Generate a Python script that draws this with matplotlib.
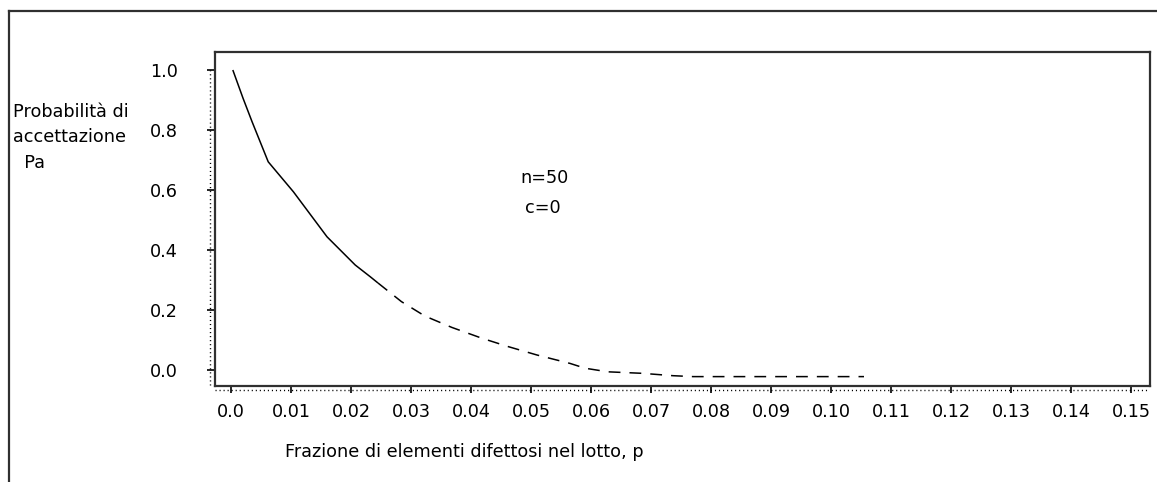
import matplotlib
matplotlib.use("Agg")
import matplotlib.pyplot as plt
from matplotlib.lines import Line2D

plt.rcParams['font.family'] = ['DejaVu Sans']
plt.rcParams['lines.scale_dashes'] = False

# --- data ---
p_solid = [0.0003, 0.002, 0.0035, 0.0062, 0.0104, 0.0160, 0.0207, 0.0232, 0.0245]
pa_solid = [1.000, 0.906, 0.828, 0.694, 0.594, 0.444, 0.350, 0.311, 0.290]
p_dash = [0.0245, 0.0284, 0.0323, 0.0368, 0.0418, 0.0462, 0.0510, 0.0565, 0.0590,
          0.0628, 0.0685, 0.0737, 0.0770, 0.0900, 0.1055]
pa_dash = [0.290, 0.228, 0.180, 0.142, 0.106, 0.078, 0.050, 0.022, 0.006,
           -0.006, -0.011, -0.019, -0.022, -0.022, -0.022]

x_ticks = [0.0, 0.01, 0.02, 0.03, 0.04, 0.05, 0.06, 0.07, 0.08, 0.09, 0.10,
           0.11, 0.12, 0.13, 0.14, 0.15]
x_labels = ["0.0", "0.01", "0.02", "0.03", "0.04", "0.05", "0.06", "0.07", "0.08",
            "0.09", "0.10", "0.11", "0.12", "0.13", "0.14", "0.15"]
y_ticks = [0.0, 0.2, 0.4, 0.6, 0.8, 1.0]
y_labels = ["0.0", "0.2", "0.4", "0.6", "0.8", "1.0"]

FS = 12.7

W, H = 1157, 482
fig = plt.figure(figsize=(W / 100, H / 100), dpi=100)
fig.patch.set_facecolor('white')

# axes box in pixels
L, R, T, B = 215, 1150, 52, 386
ax = fig.add_axes([L / W, (H - B) / H, (R - L) / W, (B - T) / H])
ax.set_xlim(-0.00267, 0.15317)
ax.set_ylim(-0.0533, 1.06)

for s in ax.spines.values():
    s.set_color('#303030')
    s.set_linewidth(1.6)

ax.plot(p_solid, pa_solid, color='black', lw=1.1, solid_capstyle='butt')
ax.plot(p_dash, pa_dash, color='black', lw=1.1, linestyle=(0, (8.5, 6.5)))

ax.set_xticks(x_ticks)
ax.set_xticklabels(x_labels)
ax.set_yticks(y_ticks)
ax.set_yticklabels(y_labels)
ax.tick_params(axis='x', direction='out', length=5.0, width=1.2, pad=7,
               labelsize=FS, colors='black')
ax.tick_params(axis='y', direction='out', length=5.8, width=1.2, pad=21,
               labelsize=FS, colors='black')

# dotted axis lines
ax.plot([-5.0 / (R - L)] * 2, [-0.05, 1.0], transform=ax.get_yaxis_transform(),
        color='black', lw=1.0, linestyle=(0, (0.8, 2.1)), clip_on=False)
ax.plot([-0.0026, 0.153], [-4.0 / (B - T)] * 2, transform=ax.get_xaxis_transform(),
        color='black', lw=1.0, linestyle=(0, (0.8, 2.1)), clip_on=False)

ax.text(0.0523, 0.64, "n=50", ha='center', va='center', fontsize=FS)
ax.text(0.0520, 0.54, "c=0", ha='center', va='center', fontsize=FS)

fig.text(13 / W, 1 - 103 / H, "Probabilità di\naccettazione\n  Pa", ha='left', va='top',
         fontsize=FS, linespacing=1.52)
fig.text(285 / W, 1 - 452 / H, "Frazione di elementi difettosi nel lotto, p",
         ha='left', va='center', fontsize=FS)

# outer frame (left and top edges)
fig.add_artist(Line2D([9 / W, 9 / W], [0, 1 - 11 / H], transform=fig.transFigure,
                      color='#303030', lw=1.6))
fig.add_artist(Line2D([9 / W, 1], [1 - 11 / H, 1 - 11 / H], transform=fig.transFigure,
                      color='#303030', lw=1.6))

fig.savefig("out.png", dpi=100)
